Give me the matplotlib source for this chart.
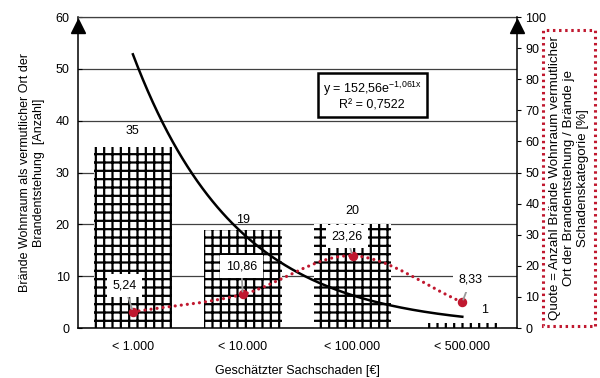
import numpy as np
import matplotlib
matplotlib.use("Agg")
import matplotlib.pyplot as plt
from matplotlib.path import Path
from matplotlib.patches import PathPatch
from matplotlib import transforms

plt.rcParams['font.family'] = ['Liberation Sans', 'DejaVu Sans']
plt.rcParams['mathtext.fontset'] = 'custom'
plt.rcParams['mathtext.rm'] = 'Liberation Sans'
plt.rcParams['mathtext.it'] = 'Liberation Sans'
plt.rcParams['hatch.linewidth'] = 1.6

# Data
categories = ["< 1.000", "< 10.000", "< 100.000", "< 500.000"]
counts = [35, 19, 20, 1]
quota = [5.24, 10.86, 23.26, 8.33]
fit_a, fit_b = 152.56, 1.061
r_squared = "0,7522"

x = np.arange(1, len(categories) + 1)

fig = plt.figure(figsize=(6, 3.78), dpi=100)
ax = fig.add_axes([0.130, 0.132, 0.732, 0.823])
ax2 = ax.twinx()

# Count bars with grid hatch
ax.bar(x, counts, width=0.71, facecolor='white', edgecolor='black',
       linewidth=0, hatch='++', zorder=2)

# Exponential trend line
xf = np.linspace(1, 4, 200)
ax.plot(xf, fit_a * np.exp(-fit_b * xf), color='black', lw=1.8, zorder=3)

ax.set_xlim(0.5, 4.5)
ax.set_ylim(0, 60)
ax.set_yticks(range(0, 61, 10))
ax.set_xticks(x)
ax.set_xticklabels(categories, fontsize=9)
ax.tick_params(axis='x', length=0, pad=9)
ax.tick_params(axis='y', direction='in', length=3, labelsize=9, pad=6)
ax.yaxis.grid(True, color='#404040', lw=0.9)
ax.set_axisbelow(True)
ax.spines['top'].set_color('#404040')
ax.spines['top'].set_linewidth(0.9)
ax.spines['left'].set_linewidth(1.1)
ax.spines['bottom'].set_linewidth(1.1)
ax.spines['right'].set_visible(False)

ax.set_xlabel("Geschätzter Sachschaden [€]", fontsize=9, labelpad=9)
ax.set_ylabel("Brände Wohnraum als vermutlicher Ort der\nBrandentstehung  [Anzahl]",
              fontsize=9, labelpad=8)

# Count labels
count_offsets = [(0, 11), (0, 7), (0, 10), (16, 9)]
for xi, c, off in zip(x, counts, count_offsets):
    ax.annotate(str(c), (xi, c), xytext=off, textcoords='offset points',
                ha='center', va='center', fontsize=9, zorder=5)

# Quota line, smoothed through the points (Catmull-Rom as cubic Bezier)
pts = np.column_stack([x, quota]).astype(float)
n = len(pts)
tang = np.zeros_like(pts)
for i in range(n):
    if i == 0:
        tang[i] = pts[1] - pts[0]
    elif i == n - 1:
        tang[i] = pts[-1] - pts[-2]
    else:
        tang[i] = (pts[i + 1] - pts[i - 1]) / 2
verts = [pts[0]]
codes = [Path.MOVETO]
for i in range(n - 1):
    verts += [pts[i] + tang[i] / 3, pts[i + 1] - tang[i + 1] / 3, pts[i + 1]]
    codes += [Path.CURVE4] * 3
red = '#C0182F'
ax2.add_patch(PathPatch(Path(verts, codes), facecolor='none', edgecolor=red,
                        lw=2.3, linestyle=(0, (0.01, 1.9)), capstyle='round', zorder=3))
ax2.plot(x, quota, 'o', color=red, ms=5.8, zorder=4)

ax2.set_ylim(0, 100)
ax2.set_yticks(range(0, 101, 10))
ax2.tick_params(axis='y', direction='out', length=3, labelsize=9, pad=3)
for s in ['top', 'left', 'bottom']:
    ax2.spines[s].set_visible(False)
ax2.spines['right'].set_linewidth(1.1)

# Quota labels with leader lines
quota_offsets = [(-6, 19), (-1, 20), (-4, 14), (6, 16)]
for xi, q, off in zip(x, quota, quota_offsets):
    ax2.annotate(f"{q:.2f}".replace('.', ','), (xi, q), xytext=off,
                 textcoords='offset points', ha='center', va='center', fontsize=9,
                 bbox=dict(boxstyle='square,pad=0.45', fc='white', ec='none'),
                 arrowprops=dict(arrowstyle='-', color='#9a9a9a', lw=1.3,
                                 shrinkA=0, shrinkB=2),
                 zorder=6)

# Trend equation box
ax.text(3.18, 44.8,
        "y = 152,56e$^{\\mathregular{-1{,}061x}}$\nR² = " + r_squared,
        ha='center', va='center', fontsize=9, multialignment='center', zorder=6,
        bbox=dict(boxstyle='square,pad=0.4', fc='white', ec='black', lw=1.8))

# Arrow heads on both value axes
for xa in (0, 1):
    tr = transforms.offset_copy(ax.transAxes, fig=fig, y=-9, units='dots')
    ax.plot(xa, 1, marker='^', color='black', ms=10, transform=tr,
            clip_on=False, zorder=7)

# Right axis title in a dotted frame
fig.text(0.9485, 0.530,
         "Quote = Anzahl Brände Wohnraum vermutlicher\nOrt der Brandentstehung / Brände je\nSchadenskategorie [%]",
         rotation=90, ha='center', va='center', fontsize=9.6, multialignment='center',
         bbox=dict(boxstyle='square,pad=0.45', fc='white', ec=red, lw=2.2,
                   linestyle=(0, (0.8, 1.2))))

fig.savefig("out.png", dpi=100)
